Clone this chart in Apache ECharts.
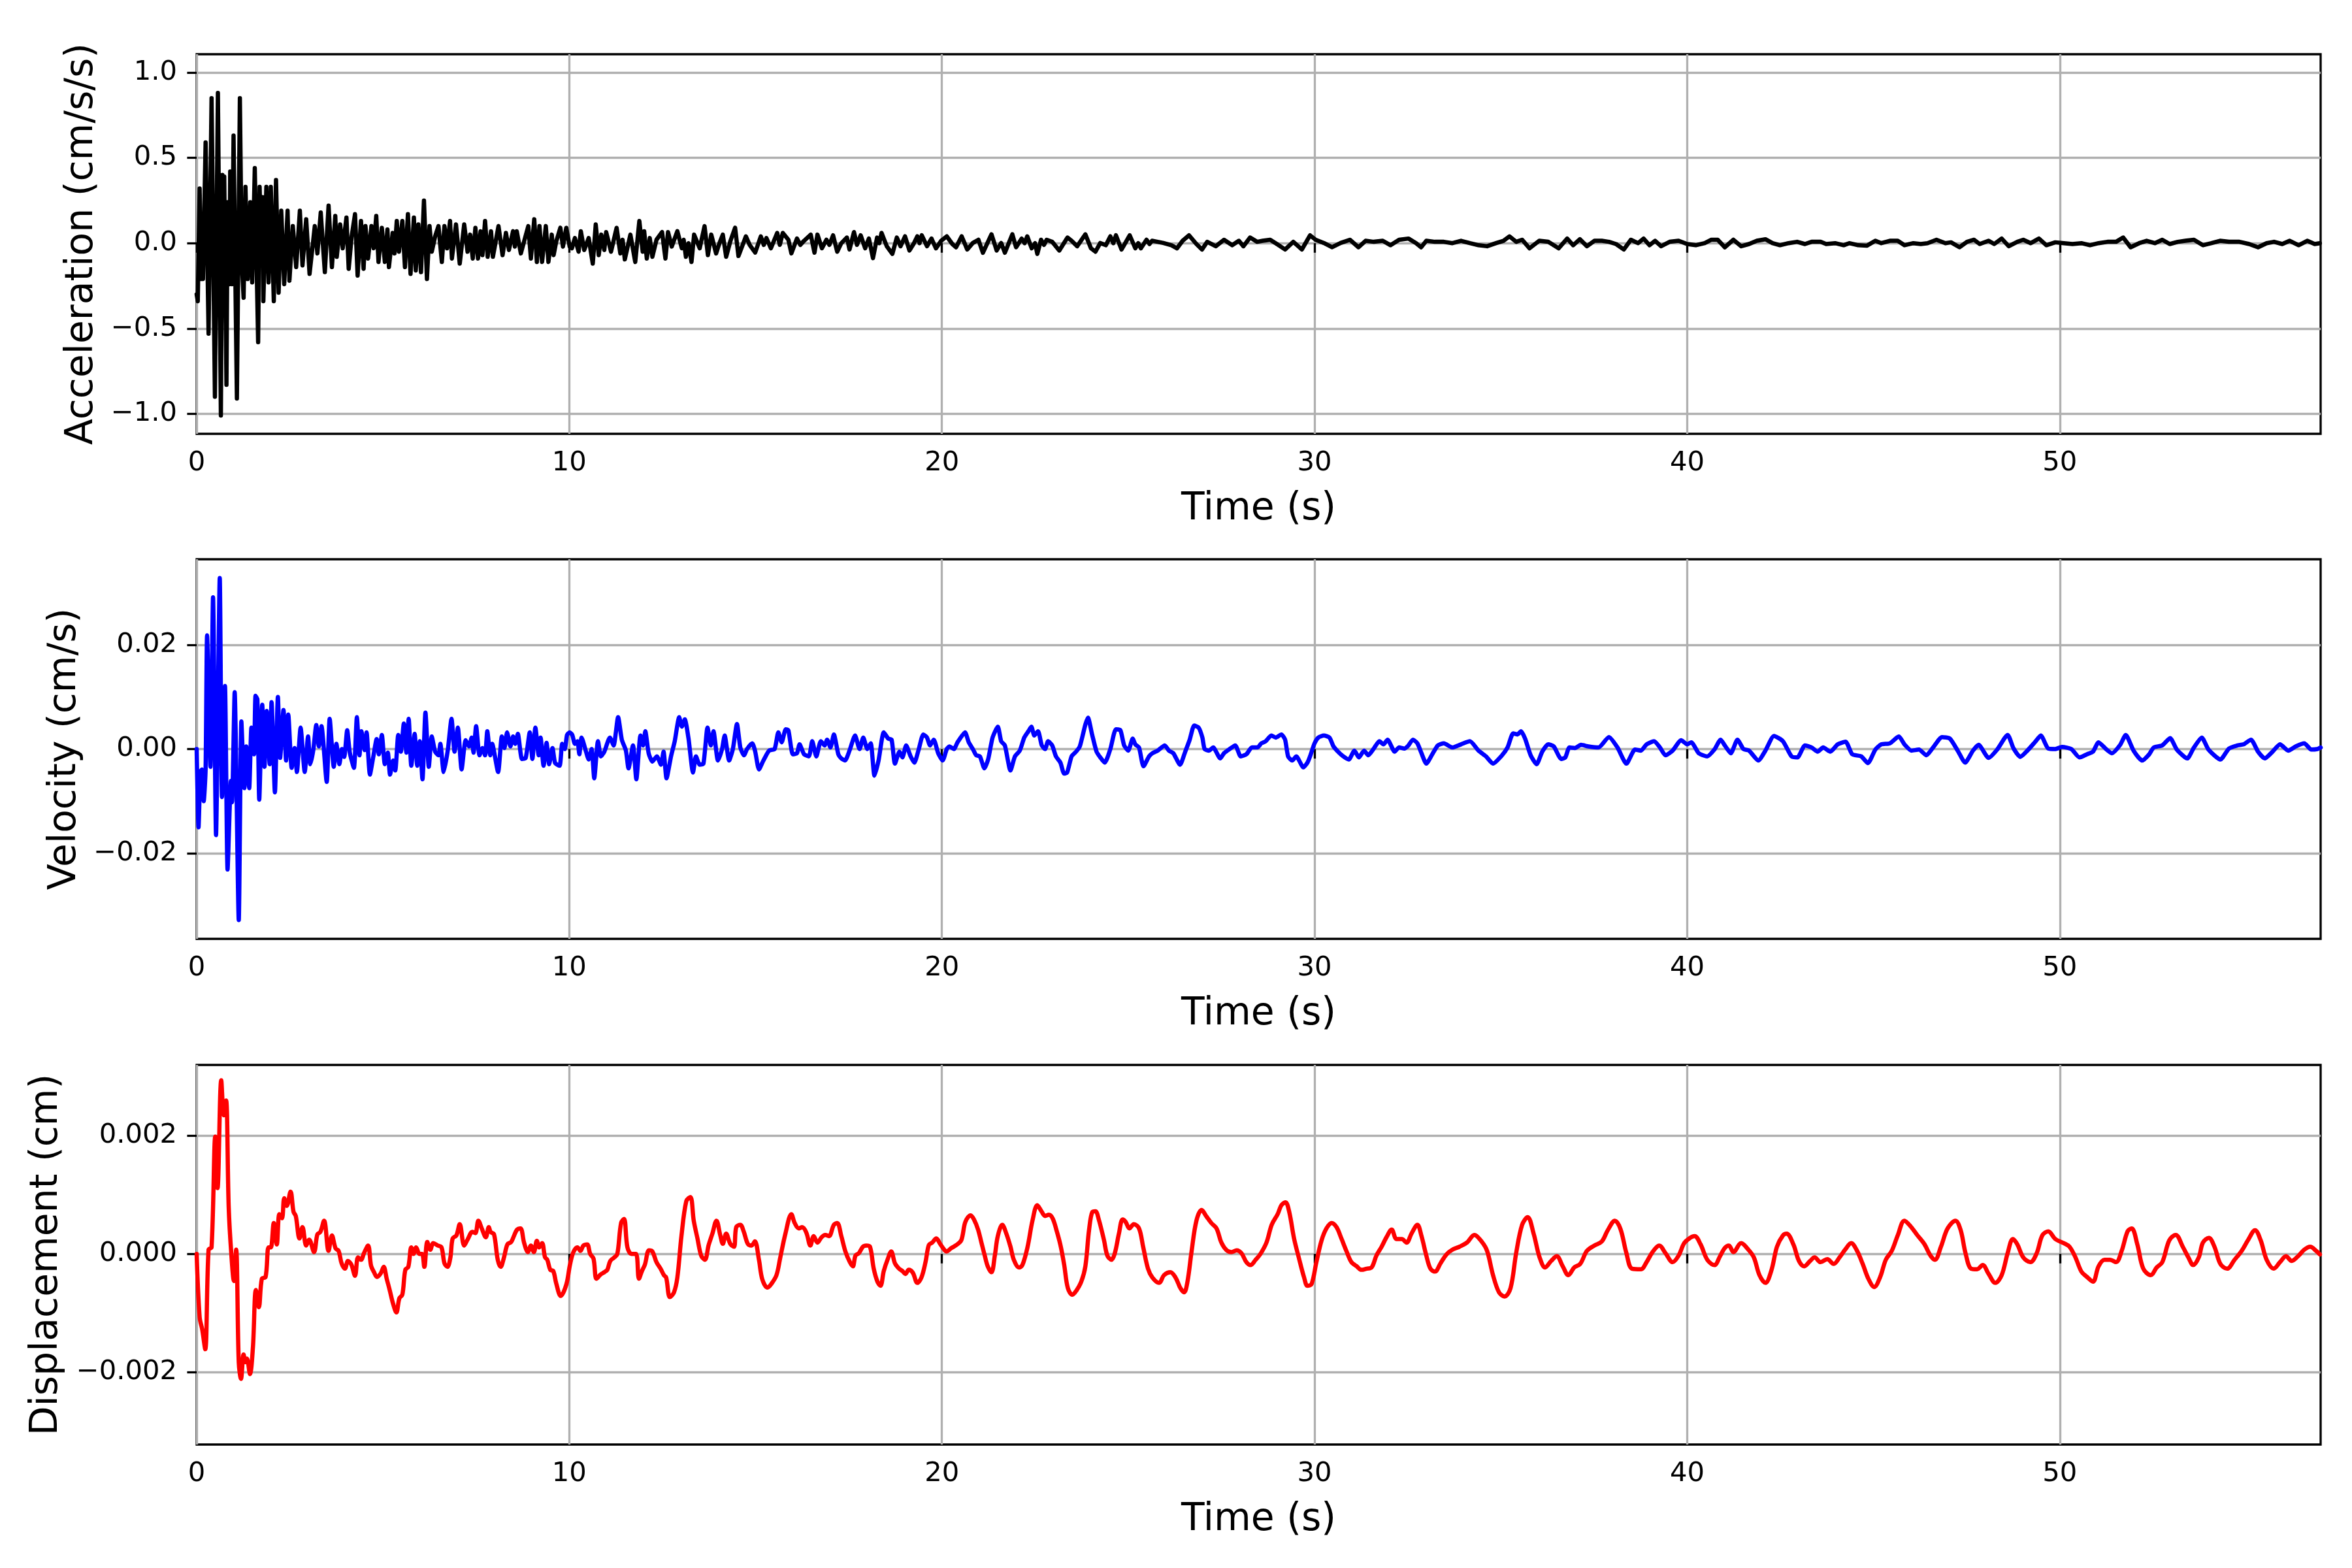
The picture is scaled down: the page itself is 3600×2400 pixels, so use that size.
<!DOCTYPE html>
<html>
<head>
<meta charset="utf-8">
<script src="https://cdn.jsdelivr.net/npm/echarts@6/dist/echarts.min.js"></script>
<style>html,body{margin:0;padding:0;background:#fff}#chart{width:3600px;height:2400px}</style>
</head>
<body>
<div id="chart"></div>
<script>
// ---------- data (time in s, value) ----------
const accelerationData = [
[0.0,-0.3],[0.03,-0.34],[0.08,0.32],[0.12,-0.21],[0.15,0.05],[0.17,-0.21],[0.24,0.59],[0.32,-0.53],[0.40,0.85],[0.49,-0.90],[0.57,0.88],[0.65,-1.01],[0.69,0.40],[0.72,-0.1],[0.74,0.39],[0.80,-0.83],[0.83,0.24],[0.88,-0.24],[0.90,0.42],[0.95,-0.24],[0.99,0.63],[1.08,-0.91],[1.16,0.85],[1.21,-0.11],[1.26,-0.32],[1.31,0.33],[1.37,-0.21],[1.44,0.24],[1.49,-0.23],[1.56,0.44],[1.65,-0.58],[1.69,0.33],[1.74,-0.1],[1.77,0.27],[1.79,-0.34],[1.87,0.33],[1.93,-0.23],[1.99,0.33],[2.07,-0.34],[2.13,0.37],[2.20,-0.29],[2.27,0.19],[2.35,-0.24],[2.44,0.19],[2.49,-0.22],[2.58,0.10],[2.67,-0.14],[2.77,0.19],[2.84,-0.13],[2.94,0.14],[3.03,-0.18],[3.17,0.10],[3.24,-0.06],[3.33,0.18],[3.44,-0.17],[3.54,0.22],[3.63,-0.14],[3.72,0.16],[3.76,-0.08],[3.85,0.11],[3.92,-0.03],[4.02,0.15],[4.08,-0.15],[4.16,0.04],[4.25,0.17],[4.32,-0.19],[4.41,0.13],[4.48,-0.15],[4.53,0.10],[4.60,-0.09],[4.69,0.10],[4.75,-0.03],[4.82,0.16],[4.88,-0.11],[4.97,0.09],[5.05,-0.11],[5.12,0.08],[5.16,-0.14],[5.26,0.06],[5.31,-0.06],[5.37,0.13],[5.43,-0.05],[5.52,0.13],[5.59,-0.14],[5.67,0.17],[5.74,-0.18],[5.83,0.15],[5.88,-0.16],[5.95,0.11],[6.02,-0.17],[6.10,0.25],[6.18,-0.21],[6.25,0.10],[6.31,-0.05],[6.40,0.04],[6.49,0.10],[6.58,-0.11],[6.65,0.10],[6.72,-0.03],[6.80,0.13],[6.85,-0.09],[6.96,0.11],[7.06,-0.12],[7.18,0.11],[7.27,-0.05],[7.34,0.05],[7.41,-0.09],[7.48,0.09],[7.55,-0.09],[7.62,0.07],[7.67,-0.07],[7.74,0.13],[7.81,-0.08],[7.90,0.07],[7.95,-0.08],[8.10,0.10],[8.21,-0.07],[8.30,0.06],[8.38,-0.04],[8.49,0.07],[8.54,-0.02],[8.59,0.07],[8.70,-0.06],[8.80,0.02],[8.90,0.10],[8.97,-0.09],[9.06,0.14],[9.13,-0.11],[9.20,0.10],[9.27,-0.11],[9.37,0.10],[9.44,-0.11],[9.53,0.05],[9.58,-0.07],[9.65,0.01],[9.76,0.09],[9.83,-0.02],[9.92,0.09],[10.01,-0.02],[10.07,-0.03],[10.15,0.03],[10.25,-0.05],[10.31,0.07],[10.40,-0.04],[10.52,0.03],[10.63,-0.12],[10.71,0.11],[10.79,-0.07],[10.86,0.05],[10.94,-0.04],[10.99,0.065],[11.12,-0.05],[11.27,0.09],[11.37,-0.06],[11.43,0.02],[11.49,-0.095],[11.64,0.05],[11.77,-0.11],[11.88,0.13],[11.97,-0.05],[12.01,0.07],[12.08,-0.09],[12.16,0.03],[12.23,-0.08],[12.34,0.02],[12.49,0.065],[12.58,-0.09],[12.65,0.065],[12.75,-0.02],[12.9,0.07],[13.02,-0.03],[13.07,0.02],[13.13,-0.08],[13.2,0.0],[13.28,-0.11],[13.35,0.05],[13.5,-0.03],[13.63,0.10],[13.72,-0.07],[13.81,0.05],[13.94,-0.06],[14.03,0.0],[14.12,0.05],[14.21,-0.08],[14.32,0.01],[14.45,0.09],[14.54,-0.075],[14.74,0.04],[14.84,-0.01],[14.99,-0.055],[15.14,0.04],[15.22,-0.01],[15.29,0.03],[15.41,-0.03],[15.58,0.06],[15.65,-0.01],[15.73,0.06],[15.88,0.02],[15.96,-0.06],[16.11,0.027],[16.2,-0.01],[16.3,0.014],[16.48,0.05],[16.58,-0.056],[16.66,0.05],[16.78,-0.03],[16.9,0.02],[16.98,-0.01],[17.08,0.046],[17.19,-0.05],[17.3,0.0],[17.45,0.033],[17.52,-0.037],[17.64,0.065],[17.72,-0.01],[17.82,0.046],[17.94,-0.03],[18.04,0.027],[18.15,-0.088],[18.26,0.033],[18.32,0.0],[18.38,0.06],[18.52,-0.018],[18.67,-0.063],[18.79,0.033],[18.89,-0.018],[19.01,0.04],[19.13,-0.043],[19.25,0.0],[19.34,0.04],[19.4,0.0],[19.46,0.046],[19.6,-0.018],[19.72,0.027],[19.84,-0.03],[19.98,0.014],[20.13,0.04],[20.28,-0.005],[20.38,-0.024],[20.53,0.04],[20.68,-0.037],[20.83,0.001],[20.98,0.02],[21.1,-0.056],[21.33,0.052],[21.47,-0.043],[21.59,0.001],[21.69,-0.056],[21.89,0.052],[21.99,-0.024],[22.14,0.027],[22.22,0.0],[22.29,0.04],[22.41,-0.03],[22.5,0.0],[22.56,-0.063],[22.66,0.02],[22.74,-0.01],[22.81,0.02],[22.96,0.008],[23.15,-0.043],[23.37,0.033],[23.48,0.014],[23.63,-0.018],[23.85,0.052],[24.0,-0.03],[24.12,-0.05],[24.25,0.001],[24.4,-0.012],[24.52,0.04],[24.6,0.0],[24.67,0.046],[24.82,-0.037],[24.94,0.008],[25.04,0.046],[25.19,-0.03],[25.27,0.0],[25.34,-0.03],[25.49,0.02],[25.57,-0.005],[25.64,0.014],[25.79,0.008],[25.94,0.001],[26.16,-0.012],[26.31,-0.03],[26.46,0.014],[26.63,0.046],[26.83,-0.005],[26.98,-0.037],[27.12,0.008],[27.35,-0.018],[27.57,0.02],[27.79,-0.012],[27.97,0.014],[28.09,-0.018],[28.27,0.033],[28.46,0.008],[28.61,0.014],[28.81,0.02],[28.99,-0.005],[29.21,-0.037],[29.43,0.008],[29.66,-0.037],[29.88,0.046],[30.03,0.02],[30.25,0.001],[30.47,-0.024],[30.7,0.001],[30.95,0.02],[31.18,-0.024],[31.37,0.014],[31.59,0.008],[31.83,0.014],[32.04,-0.012],[32.27,0.02],[32.52,0.027],[32.72,0.001],[32.86,-0.024],[33.0,0.014],[33.23,0.008],[33.47,0.008],[33.7,0],[33.93,0.014],[34.17,0],[34.4,-0.012],[34.63,-0.018],[34.87,0],[35.07,0.014],[35.23,0.04],[35.41,0.008],[35.57,0.02],[35.77,-0.03],[36.03,0.014],[36.27,0.008],[36.55,-0.03],[36.78,0.027],[36.94,-0.012],[37.12,0.023],[37.31,-0.018],[37.51,0.014],[37.71,0.014],[37.9,0.008],[38.09,-0.005],[38.3,-0.037],[38.49,0.02],[38.68,0],[38.83,0.027],[38.99,-0.012],[39.14,0.014],[39.3,-0.018],[39.53,0.008],[39.77,0.014],[40.0,-0.005],[40.23,-0.012],[40.47,0],[40.65,0.02],[40.82,0.02],[41.01,-0.024],[41.24,0.02],[41.45,-0.018],[41.66,-0.005],[41.87,0.014],[42.1,0.023],[42.29,0],[42.49,-0.012],[42.72,0],[42.95,0.008],[43.16,-0.005],[43.34,0.008],[43.58,0.008],[43.73,-0.005],[43.97,0],[44.2,-0.012],[44.35,0],[44.59,-0.012],[44.82,-0.015],[45.05,0.014],[45.21,0],[45.44,0.014],[45.65,0.014],[45.83,-0.012],[46.07,0],[46.27,-0.005],[46.45,0],[46.69,0.02],[46.93,0],[47.08,0.005],[47.31,-0.024],[47.51,0.008],[47.7,0.02],[47.85,-0.005],[48.09,0.014],[48.24,-0.005],[48.44,0.027],[48.63,-0.018],[48.86,0.008],[49.02,0.02],[49.22,0],[49.44,0.027],[49.64,-0.012],[49.88,0.005],[50.11,0],[50.34,-0.005],[50.58,0],[50.81,-0.012],[51.04,0],[51.28,0.008],[51.51,0.008],[51.7,0.033],[51.9,-0.024],[52.13,0],[52.33,0.014],[52.55,0],[52.75,0.02],[52.95,-0.005],[53.17,0.008],[53.37,0.014],[53.6,0.02],[53.84,-0.012],[54.07,0],[54.3,0.014],[54.54,0.008],[54.82,0.008],[55.08,-0.005],[55.32,-0.024],[55.55,0],[55.75,0.008],[55.97,-0.005],[56.17,0.014],[56.41,-0.012],[56.64,0.014],[56.84,-0.005],[56.98,0]
];
const velocityData = [
[0,0],[0.05,-0.015],[0.10,-0.0044],[0.14,-0.0039],[0.19,-0.0100],[0.24,-0.004],[0.28,0.0218],[0.37,-0.0034],[0.44,0.0291],[0.52,-0.0165],[0.62,0.0328],[0.68,-0.0092],[0.76,0.0121],[0.83,-0.0231],[0.92,-0.0061],[0.95,-0.0102],[1.02,0.0109],[1.13,-0.0328],[1.20,0.0053],[1.28,-0.0075],[1.33,0.0005],[1.41,-0.0075],[1.47,0.0041],[1.54,-0.001],[1.58,0.0102],[1.63,0.0095],[1.68,-0.0097],[1.76,0.0085],[1.82,-0.0034],[1.88,0.0073],[1.96,-0.0029],[2.01,0.0090],[2.10,-0.0083],[2.18,0.0100],[2.24,-0.0017],[2.33,0.0075],[2.40,-0.0022],[2.46,0.0066],[2.55,-0.0036],[2.63,0.0002],[2.69,-0.0044],[2.79,0.0041],[2.90,-0.0044],[2.99,0.0024],[3.05,-0.0029],[3.13,-0.0002],[3.21,0.0046],[3.28,0.0005],[3.35,0.0044],[3.49,-0.0063],[3.57,0.0058],[3.68,-0.0034],[3.75,0.001],[3.83,-0.0029],[3.90,0],[3.96,-0.0015],[4.04,0.0036],[4.11,-0.0007],[4.22,-0.0036],[4.30,0.0061],[4.37,-0.0012],[4.42,0.0034],[4.51,-0.0002],[4.56,0.0032],[4.65,-0.0049],[4.74,-0.0015],[4.83,0.0019],[4.89,-0.001],[4.97,0.0027],[5.05,-0.0029],[5.13,-0.0007],[5.19,-0.0049],[5.27,-0.0022],[5.33,-0.0041],[5.41,0.0027],[5.48,-0.0005],[5.56,0.0049],[5.63,-0.0007],[5.69,0.0058],[5.76,-0.0032],[5.85,0.0029],[5.92,-0.0032],[5.99,0.0015],[6.06,-0.0058],[6.14,0.0070],[6.23,-0.0034],[6.31,0.0024],[6.40,-0.0005],[6.49,-0.0012],[6.54,0.001],[6.63,-0.0044],[6.74,-0.0002],[6.84,0.0058],[6.92,-0.0005],[7.01,0.0041],[7.11,-0.0039],[7.22,0.0017],[7.31,0.0005],[7.38,0.0022],[7.43,-0.0007],[7.50,0.0044],[7.59,-0.0012],[7.67,0.0002],[7.74,-0.0012],[7.80,0.0034],[7.88,-0.0012],[7.93,0.001],[8.09,-0.0044],[8.19,0.0024],[8.26,0.0002],[8.33,0.0032],[8.42,0.0005],[8.49,0.0024],[8.55,0.001],[8.62,0.0029],[8.73,-0.0019],[8.83,-0.0017],[8.94,0.0032],[9.01,-0.0019],[9.09,0.0041],[9.18,-0.0012],[9.23,0.0022],[9.31,-0.0032],[9.39,0.0012],[9.46,-0.0029],[9.55,0.0002],[9.62,-0.0027],[9.74,-0.0032],[9.81,0.001],[9.88,0],[9.94,0.0027],[10.01,0.0032],[10.08,0.0027],[10.15,0.001],[10.22,0.0015],[10.27,-0.001],[10.33,0.0022],[10.45,-0.0005],[10.52,-0.002],[10.6,0.0],[10.67,-0.0056],[10.77,0.0015],[10.85,-0.0014],[10.94,-0.0005],[11.09,0.0022],[11.19,0.0007],[11.31,0.0061],[11.41,0.0018],[11.52,-0.0003],[11.59,-0.0037],[11.71,0.0007],[11.80,-0.0058],[11.91,0.0026],[11.98,0.0007],[12.04,0.0034],[12.13,-0.0008],[12.23,-0.0024],[12.35,-0.0014],[12.46,-0.003],[12.53,-0.0005],[12.61,-0.0056],[12.73,-0.0014],[12.83,0.0015],[12.95,0.0061],[13.02,0.0043],[13.10,0.0057],[13.20,0.002],[13.32,-0.0045],[13.40,-0.0014],[13.50,-0.003],[13.60,-0.0028],[13.71,0.0041],[13.80,0.0007],[13.87,0.0034],[13.99,-0.0022],[14.10,0],[14.17,0.0026],[14.29,-0.0022],[14.39,0],[14.50,0.0048],[14.59,0.0003],[14.69,-0.0012],[14.77,0],[14.91,0.0011],[14.99,-0.0005],[15.09,-0.0039],[15.21,-0.0022],[15.36,-0.0003],[15.51,0],[15.61,0.0032],[15.70,0.0013],[15.81,0.0038],[15.88,0.0036],[16.00,-0.001],[16.11,-0.0008],[16.18,0.0009],[16.30,-0.001],[16.43,-0.0014],[16.52,0.0015],[16.63,-0.0014],[16.75,0.0015],[16.85,0.0007],[16.92,0.0018],[17.01,0.0003],[17.10,0.0028],[17.22,-0.001],[17.30,-0.0018],[17.40,-0.0022],[17.52,-0.0003],[17.67,0.0026],[17.79,0],[17.89,0.0022],[18.00,0],[18.09,0.0011],[18.19,-0.0051],[18.30,-0.0022],[18.44,0.0032],[18.56,0.002],[18.65,0.0018],[18.74,-0.0028],[18.86,-0.0005],[18.94,-0.0016],[19.04,0.0007],[19.16,-0.0014],[19.26,-0.0026],[19.38,0],[19.50,0.0028],[19.60,0.0022],[19.68,0.0007],[19.78,0.0018],[19.90,-0.0008],[20.02,-0.0022],[20.13,0],[20.20,0.0005],[20.32,0],[20.42,0.0013],[20.62,0.0032],[20.72,0.0013],[20.83,0],[20.92,-0.0012],[21.02,-0.0014],[21.14,-0.0037],[21.24,-0.002],[21.36,0.0022],[21.50,0.0043],[21.59,0.0015],[21.69,0.0007],[21.84,-0.0041],[21.96,-0.0014],[22.09,-0.0003],[22.21,0.0022],[22.32,0.0034],[22.40,0.0043],[22.48,0.0026],[22.58,0.0034],[22.68,0.0007],[22.77,0],[22.85,0.0015],[22.96,0.0007],[23.06,-0.0014],[23.18,-0.0026],[23.28,-0.0047],[23.36,-0.0045],[23.48,-0.0014],[23.60,-0.0005],[23.70,0.0005],[23.85,0.0047],[23.92,0.006],[24.03,0.0028],[24.15,-0.0005],[24.25,-0.0016],[24.37,-0.0026],[24.52,0],[24.67,0.0038],[24.79,0.0036],[24.89,0.0007],[25.00,-0.0003],[25.12,0.002],[25.19,0.0009],[25.29,0.0003],[25.41,-0.0033],[25.56,-0.0014],[25.65,-0.0008],[25.79,-0.0003],[25.98,0.0007],[26.09,-0.0003],[26.21,-0.0008],[26.39,-0.003],[26.53,-0.0005],[26.65,0.0018],[26.77,0.0045],[26.89,0.0041],[26.99,0.0022],[27.05,0],[27.17,-0.0003],[27.28,0.0003],[27.47,-0.0018],[27.57,-0.0008],[27.72,0],[27.87,0.0007],[28.02,-0.0014],[28.17,-0.001],[28.32,0.0003],[28.47,0.0003],[28.57,0.0011],[28.69,0.0015],[28.84,0.0026],[28.96,0.0022],[29.11,0.0028],[29.21,0.0018],[29.29,-0.0014],[29.40,-0.0022],[29.51,-0.0014],[29.70,-0.0035],[29.81,-0.0026],[29.88,-0.0014],[30.00,0.0011],[30.10,0.0022],[30.25,0.0026],[30.40,0.0022],[30.51,0.0005],[30.63,-0.0005],[30.77,-0.0014],[30.92,-0.002],[31.07,-0.0003],[31.19,-0.0016],[31.33,-0.0003],[31.44,-0.0012],[31.59,0.0001],[31.74,0.0015],[31.85,0.0009],[31.96,0.0018],[32.15,-0.0005],[32.27,0.0003],[32.41,0.0001],[32.52,0.0007],[32.64,0.0018],[32.76,0.0011],[32.87,-0.0008],[33.0,-0.0028],[33.16,-0.001],[33.31,0.0007],[33.47,0.0011],[33.7,0.0003],[33.93,0.0009],[34.17,0.0015],[34.4,-0.0003],[34.6,-0.0014],[34.79,-0.0028],[35.02,-0.0013],[35.18,0.0003],[35.33,0.003],[35.44,0.0028],[35.54,0.0034],[35.65,0.002],[35.8,-0.0012],[35.96,-0.0029],[36.11,-0.0005],[36.27,0.0009],[36.42,0.0005],[36.62,-0.0019],[36.73,-0.0016],[36.84,0.0003],[36.99,0.0002],[37.15,0.0008],[37.35,0.0005],[37.62,0.0003],[37.9,0.0023],[38.13,0.0003],[38.37,-0.0028],[38.6,-0.0001],[38.76,-0.0003],[38.91,0.0009],[39.11,0.0015],[39.27,0.0003],[39.42,-0.0012],[39.61,-0.0003],[39.84,0.0017],[40.0,0.0009],[40.11,0.0013],[40.31,-0.0008],[40.54,-0.0014],[40.73,-0.0001],[40.9,0.0018],[41.01,0.0007],[41.17,-0.0008],[41.35,0.0018],[41.51,0],[41.66,-0.0003],[41.91,-0.0022],[42.1,-0.0003],[42.33,0.0025],[42.57,0.0015],[42.8,-0.0014],[42.96,-0.0016],[43.16,0.0007],[43.34,0.0003],[43.5,-0.0005],[43.65,0.0003],[43.84,-0.0005],[44.04,0.0009],[44.25,0.0014],[44.43,-0.001],[44.67,-0.0014],[44.85,-0.0027],[45.05,-0.0001],[45.21,0.0009],[45.44,0.0011],[45.68,0.0024],[45.83,0.0009],[46.02,-0.0003],[46.22,-0.0001],[46.42,-0.0012],[46.6,0.0003],[46.84,0.0023],[47.05,0.002],[47.26,-0.0003],[47.46,-0.0026],[47.67,-0.0003],[47.82,0.0008],[48.09,-0.0017],[48.32,-0.0001],[48.6,0.0027],[48.76,0.0001],[48.94,-0.0015],[49.13,-0.0003],[49.33,0.0013],[49.49,0.0026],[49.69,0.0001],[49.88,0],[50.06,0.0004],[50.31,0],[50.53,-0.0016],[50.73,-0.001],[50.89,-0.0005],[51.04,0.0013],[51.24,0],[51.4,-0.0008],[51.62,0.0008],[51.77,0.0027],[51.98,-0.0003],[52.21,-0.0022],[52.4,-0.001],[52.52,0.0003],[52.75,0.0007],[52.96,0.0021],[53.14,-0.0001],[53.42,-0.0018],[53.6,0.0003],[53.81,0.0022],[53.99,-0.0001],[54.31,-0.002],[54.54,0.0001],[54.77,0.0007],[54.93,0.0009],[55.13,0.0018],[55.32,-0.0005],[55.5,-0.0018],[55.71,-0.0005],[55.91,0.0009],[56.13,-0.0003],[56.33,0.0005],[56.56,0.0011],[56.75,-0.0001],[56.91,0],[57.0,0.0003]
];
const displacementData = [
[0,0],[0.08,-0.00107],[0.15,-0.00128],[0.23,-0.00161],[0.32,0.00007],[0.40,0.00011],[0.50,0.00198],[0.56,0.00111],[0.66,0.00293],[0.73,0.00234],[0.79,0.00259],[0.86,0.00079],[0.93,0],[1.00,-0.00046],[1.06,0.00007],[1.13,-0.00183],[1.19,-0.00211],[1.26,-0.0017],[1.31,-0.00183],[1.35,-0.00177],[1.43,-0.00203],[1.51,-0.00158],[1.59,-0.00061],[1.67,-0.0009],[1.75,-0.00042],[1.85,-0.00039],[1.93,0.00011],[1.99,0.00011],[2.07,0.00052],[2.15,0.00016],[2.22,0.00067],[2.29,0.0006],[2.35,0.00094],[2.42,0.00081],[2.52,0.00105],[2.60,0.00071],[2.66,0.00064],[2.76,0.00026],[2.84,0.00045],[2.94,0.00014],[3.02,0.00024],[3.15,0.00003],[3.24,0.00033],[3.32,0.00037],[3.42,0.00056],[3.54,0.00005],[3.63,0.00031],[3.73,0.00009],[3.81,0.00005],[3.89,-0.00016],[3.98,-0.00025],[4.06,-0.00012],[4.15,-0.00018],[4.25,-0.00037],[4.33,-0.00006],[4.41,-0.0001],[4.49,0.00001],[4.60,0.00014],[4.68,-0.0002],[4.76,-0.00031],[4.84,-0.00039],[4.94,-0.00033],[5.02,-0.00022],[5.10,-0.00042],[5.18,-0.00061],[5.27,-0.00084],[5.36,-0.00099],[5.44,-0.00075],[5.52,-0.00069],[5.60,-0.00027],[5.68,-0.00022],[5.76,0.00011],[5.82,0],[5.89,0.00011],[5.98,0],[6.05,0],[6.11,-0.00022],[6.19,0.0002],[6.27,0.00007],[6.35,0.00018],[6.47,0.00014],[6.57,0.00011],[6.65,-0.00016],[6.73,-0.00022],[6.81,-0.00006],[6.87,0.00026],[6.97,0.00031],[7.06,0.0005],[7.18,0.00014],[7.27,0.00024],[7.40,0.00037],[7.48,0.00035],[7.56,0.00056],[7.65,0.00043],[7.76,0.00028],[7.84,0.00045],[7.89,0.00037],[7.98,0.00033],[8.08,-0.0001],[8.16,-0.00022],[8.24,-0.00008],[8.34,0.00016],[8.44,0.0002],[8.52,0.00031],[8.60,0.00041],[8.69,0.00043],[8.79,0.00018],[8.89,0.00003],[8.97,0.00014],[9.05,0.00003],[9.13,0.00022],[9.19,0.00011],[9.27,0.00018],[9.35,-0.00006],[9.41,-0.0001],[9.49,-0.00027],[9.57,-0.00029],[9.65,-0.0005],[9.77,-0.00071],[9.92,-0.00052],[10.02,-0.00018],[10.11,0.00003],[10.22,0.00011],[10.30,0.00005],[10.38,0.00014],[10.48,0.00016],[10.56,0],[10.65,-0.00008],[10.73,-0.00042],[10.84,-0.00035],[10.94,-0.00031],[11.02,-0.00027],[11.10,-0.00012],[11.21,-0.00006],[11.29,0],[11.39,0.00052],[11.47,0.00059],[11.56,0.00011],[11.67,0],[11.79,0],[11.87,-0.00042],[11.95,-0.00029],[12.03,-0.00018],[12.14,0.00006],[12.23,0.00004],[12.34,-0.00014],[12.45,-0.00025],[12.54,-0.00036],[12.6,-0.0004],[12.7,-0.00073],[12.81,-0.00065],[12.9,-0.0004],[13.01,0.0003],[13.14,0.00089],[13.25,0.00096],[13.34,0.00056],[13.44,0.00026],[13.54,-0.00003],[13.64,-0.0001],[13.74,0.00015],[13.84,0.00034],[13.95,0.00056],[14.05,0.00032],[14.12,0.00017],[14.21,0.00034],[14.32,0.00017],[14.42,0.00012],[14.48,0.00045],[14.59,0.00049],[14.68,0.00038],[14.79,0.00017],[14.89,0.00014],[14.98,0.00021],[15.09,-0.0001],[15.18,-0.00043],[15.32,-0.00057],[15.42,-0.00051],[15.56,-0.00036],[15.66,-0.00007],[15.8,0.00034],[15.96,0.00067],[16.05,0.00052],[16.16,0.00043],[16.25,0.00045],[16.36,0.00036],[16.47,0.00014],[16.56,0.0003],[16.66,0.00019],[16.77,0.00028],[16.87,0.00032],[16.97,0.0003],[17.1,0.00049],[17.19,0.00052],[17.3,0.0003],[17.41,0.00004],[17.53,-0.00014],[17.61,-0.00021],[17.68,-0.00003],[17.77,0.00001],[17.88,0.00012],[17.97,0.00014],[18.07,0.00012],[18.17,-0.00025],[18.27,-0.00047],[18.35,-0.00054],[18.44,-0.00029],[18.54,-0.0001],[18.64,0.00004],[18.74,-0.00016],[18.85,-0.00025],[18.94,-0.00029],[19.02,-0.00034],[19.11,-0.00027],[19.22,-0.00032],[19.34,-0.00049],[19.45,-0.0004],[19.56,-0.00014],[19.65,0.00015],[19.74,0.00019],[19.85,0.00026],[19.95,0.00017],[20.05,0.00008],[20.12,0.00004],[20.26,0.0001],[20.39,0.00015],[20.52,0.00023],[20.63,0.00054],[20.77,0.00065],[20.86,0.00058],[20.97,0.00041],[21.06,0.00019],[21.15,-0.00003],[21.23,-0.00021],[21.33,-0.00031],[21.42,-0.00003],[21.5,0.0003],[21.62,0.00049],[21.73,0.00034],[21.84,0.00012],[21.93,-0.0001],[22.07,-0.00023],[22.16,-0.00019],[22.3,0.00012],[22.43,0.00056],[22.56,0.00082],[22.67,0.00072],[22.77,0.00064],[22.87,0.00066],[22.97,0.0006],[23.07,0.00041],[23.18,0.00015],[23.28,-0.00018],[23.38,-0.00058],[23.5,-0.00069],[23.61,-0.00062],[23.74,-0.00047],[23.85,-0.00021],[23.95,0.00041],[24.04,0.00071],[24.12,0.00072],[24.21,0.00058],[24.35,0.00023],[24.44,-0.00003],[24.55,-0.0001],[24.64,0.00001],[24.75,0.00034],[24.85,0.00058],[24.93,0.00054],[25.03,0.00043],[25.15,0.0005],[25.29,0.00043],[25.4,0.00012],[25.53,-0.00025],[25.65,-0.0004],[25.83,-0.00049],[25.96,-0.00036],[26.13,-0.00031],[26.27,-0.0004],[26.4,-0.00058],[26.5,-0.00065],[26.59,-0.00047],[26.7,0.00004],[26.83,0.00056],[26.97,0.00074],[27.1,0.00063],[27.23,0.00052],[27.37,0.00043],[27.5,0.00019],[27.64,0.00006],[27.77,0.00003],[27.91,0.00006],[28.04,0.00001],[28.17,-0.00014],[28.28,-0.00019],[28.42,-0.0001],[28.55,0],[28.71,0.00019],[28.85,0.00049],[29.01,0.00067],[29.11,0.00082],[29.22,0.00087],[29.32,0.00071],[29.45,0.00026],[29.58,-0.00007],[29.72,-0.0004],[29.81,-0.00054],[29.92,-0.00051],[30.05,-0.00014],[30.19,0.00023],[30.32,0.00043],[30.46,0.00052],[30.59,0.00045],[30.72,0.00026],[30.86,0.00004],[30.99,-0.00014],[31.13,-0.00021],[31.26,-0.00027],[31.4,-0.00025],[31.53,-0.00023],[31.66,-0.00003],[31.8,0.00012],[31.93,0.00028],[32.07,0.00041],[32.2,0.00025],[32.34,0.00025],[32.47,0.00019],[32.6,0.00034],[32.76,0.00049],[32.87,0.0003],[33.0,-0.00003],[33.11,-0.00025],[33.23,-0.0003],[33.39,-0.00015],[33.54,-0.00001],[33.7,0.00007],[33.89,0.00012],[34.09,0.00019],[34.29,0.00032],[34.48,0.00021],[34.63,0.00005],[34.79,-0.00036],[34.95,-0.00065],[35.1,-0.00072],[35.26,-0.00058],[35.41,0.00001],[35.57,0.00049],[35.72,0.00062],[35.88,0.00034],[36.04,-0.00006],[36.19,-0.00023],[36.35,-0.00012],[36.5,-0.00004],[36.66,-0.00021],[36.81,-0.00036],[36.97,-0.00023],[37.13,-0.00017],[37.31,0.00005],[37.51,0.00014],[37.71,0.00021],[37.87,0.0004],[38.06,0.00056],[38.21,0.00042],[38.37,0.00001],[38.52,-0.00025],[38.76,-0.00026],[38.91,-0.00014],[39.07,0.00003],[39.25,0.00014],[39.42,0.00001],[39.61,-0.00014],[39.77,-0.00003],[39.92,0.00018],[40.08,0.00027],[40.2,0.0003],[40.36,0.00016],[40.54,-0.0001],[40.73,-0.00019],[40.89,-0.00003],[41.01,0.0001],[41.12,0.00014],[41.24,0.00003],[41.45,0.00018],[41.63,0.00008],[41.79,-0.00006],[41.94,-0.00036],[42.1,-0.00049],[42.26,-0.00028],[42.41,0.00012],[42.57,0.00031],[42.67,0.00034],[42.85,0.00016],[43.0,-0.00012],[43.14,-0.00021],[43.3,-0.00012],[43.42,-0.00006],[43.58,-0.00014],[43.76,-0.00009],[43.93,-0.00017],[44.09,-0.00006],[44.25,0.00008],[44.4,0.00018],[44.56,0.00005],[44.71,-0.00017],[44.87,-0.00043],[45.02,-0.00056],[45.18,-0.00039],[45.33,-0.0001],[45.49,0.00005],[45.65,0.00031],[45.83,0.00056],[45.99,0.00047],[46.17,0.00032],[46.37,0.00016],[46.53,-0.00003],[46.65,-0.0001],[46.81,0.00012],[46.99,0.00043],[47.2,0.00056],[47.34,0.0004],[47.47,0.00001],[47.62,-0.00025],[47.78,-0.00026],[47.93,-0.00019],[48.09,-0.00034],[48.27,-0.00049],[48.44,-0.00036],[48.6,0.00001],[48.74,0.00025],[48.86,0.00016],[49.02,-0.00006],[49.21,-0.00014],[49.38,0.00001],[49.53,0.00031],[49.69,0.00038],[49.88,0.00025],[50.11,0.00018],[50.26,0.00012],[50.42,-0.00006],[50.58,-0.0003],[50.73,-0.00039],[50.89,-0.00047],[51.04,-0.00021],[51.2,-0.0001],[51.35,-0.0001],[51.51,-0.00014],[51.66,0.00005],[51.82,0.00038],[51.93,0.00043],[52.08,0.00016],[52.24,-0.00025],[52.44,-0.00036],[52.6,-0.00023],[52.75,-0.00014],[52.94,0.00023],[53.11,0.00032],[53.3,0.00012],[53.45,-0.00006],[53.58,-0.00019],[53.73,-0.00006],[53.84,0.00019],[54.0,0.00027],[54.15,0.00012],[54.31,-0.00017],[54.49,-0.00025],[54.69,-0.0001],[54.88,0.00005],[55.05,0.00023],[55.24,0.0004],[55.39,0.00023],[55.55,-0.0001],[55.74,-0.00025],[55.91,-0.00014],[56.07,-0.00004],[56.22,-0.00012],[56.41,-0.00003],[56.56,0.00007],[56.72,0.00012],[56.88,0.00005],[56.98,-0.00001]
];

// ---------- tick values ----------
const timeTicks = [0, 10, 20, 30, 40, 50];
const accTicks = [-1.0, -0.5, 0.0, 0.5, 1.0];
const velTicks = [-0.02, 0.0, 0.02];
const dispTicks = [-0.002, 0.0, 0.002];

const panelTitles = ['Acceleration (cm/s/s)', 'Velocity (cm/s)', 'Displacement (cm)'];
const timeLabel = 'Time (s)';

// ---------- styling ----------
const FONT = 'DejaVu Sans';
const TICK_FS = 41.7, LABEL_FS = 58.3;
const LW = 3.3;
const GRID_COLOR = '#b0b0b0';
const panelTops = [83, 856, 1630];
const PLOT_LEFT = 301, PLOT_W = 3251, PLOT_H = 581;
const yRanges = [[-1.117, 1.107], [-0.0364, 0.0364], [-0.00322, 0.00319]];
const yDecimals = [1, 2, 3];
const yNameGaps = [146, 172, 200];
const yTickSets = [accTicks, velTicks, dispTicks];
const colors = ['#000000', '#0000ff', '#ff0000'];
const datasets = [accelerationData, velocityData, displacementData];

function fmt(v, d) {
  let s = Number(v).toFixed(d);
  if (Math.abs(v) < 1e-12) s = (0).toFixed(d);
  return s.replace('-', '\u2212');
}

const grids = [], xAxes = [], yAxes = [], series = [];
for (let i = 0; i < 3; i++) {
  grids.push({left: PLOT_LEFT, top: panelTops[i], width: PLOT_W, height: PLOT_H,
    show: true, borderColor: '#000', borderWidth: LW, backgroundColor: 'rgba(0,0,0,0)'});
  xAxes.push({
    type: 'value', gridIndex: i, min: 0, max: 57,
    name: timeLabel, nameLocation: 'middle', nameGap: 87,
    nameTextStyle: {fontFamily: FONT, fontSize: LABEL_FS, color: '#000'},
    axisLine: {show: false},
    axisTick: {show: true, inside: false, length: 14.6, customValues: timeTicks,
      lineStyle: {color: '#000', width: LW}},
    axisLabel: {show: true, margin: 24, customValues: timeTicks,
      fontFamily: FONT, fontSize: TICK_FS, color: '#000',
      formatter: v => String(Math.round(v))},
    splitLine: {show: true, lineStyle: {color: GRID_COLOR, width: LW}}
  });
  yAxes.push({
    type: 'value', gridIndex: i, min: yRanges[i][0], max: yRanges[i][1],
    name: panelTitles[i], nameLocation: 'middle', nameRotate: 90, nameGap: yNameGaps[i],
    nameTextStyle: {fontFamily: FONT, fontSize: LABEL_FS, color: '#000'},
    axisLine: {show: false},
    axisTick: {show: true, inside: false, length: 14.6, customValues: yTickSets[i],
      lineStyle: {color: '#000', width: LW}},
    axisLabel: {show: true, margin: 30, customValues: yTickSets[i],
      fontFamily: FONT, fontSize: TICK_FS, color: '#000',
      formatter: (d => v => fmt(v, d))(yDecimals[i])},
    splitLine: {show: true, lineStyle: {color: GRID_COLOR, width: LW}}
  });
  series.push({
    type: 'line', xAxisIndex: i, yAxisIndex: i, data: datasets[i],
    showSymbol: false, symbol: 'none', animation: false,
    smooth: i === 0 ? false : (i === 1 ? 0.2 : 0.35),
    lineStyle: {color: colors[i], width: 6.5, join: 'round', cap: 'round'},
    clip: true, z: 3
  });
}

const chart = echarts.init(document.getElementById('chart'), null, {renderer: 'canvas', devicePixelRatio: 1});
chart.setOption({
  animation: false,
  backgroundColor: '#ffffff',
  textStyle: {fontFamily: FONT},
  grid: grids, xAxis: xAxes, yAxis: yAxes, series: series
});
</script>
</body>
</html>
